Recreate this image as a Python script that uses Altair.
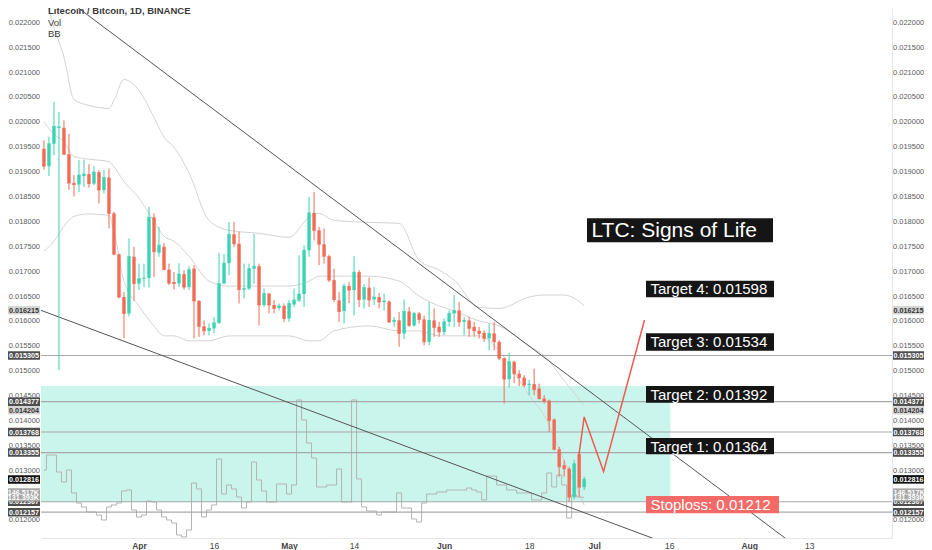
import altair as alt
import pandas as pd

# ---------------- data ----------------
n_days = 109
dates = [d.strftime("%Y-%m-%d") for d in pd.date_range("2018-03-13", periods=n_days, freq="D")]

opens = [
    0.01946, 0.01911, 0.01956, 0.01988, 0.01988, 0.01935, 0.01877, 0.01874, 0.01891, 0.01895,
    0.01876, 0.01899, 0.01863, 0.01888, 0.01816, 0.01734, 0.01648, 0.01615, 0.01729, 0.01675,
    0.01685, 0.01686, 0.01808, 0.01737, 0.01749, 0.01703, 0.01678, 0.01675, 0.01694, 0.01668,
    0.01705, 0.01640, 0.01589, 0.01580, 0.01585, 0.01596, 0.01675, 0.01716, 0.01774, 0.01755,
    0.01663, 0.01665, 0.01705, 0.01710, 0.01632, 0.01655, 0.01632, 0.01626, 0.01630, 0.01605,
    0.01633, 0.01641, 0.01654, 0.01742, 0.01817, 0.01782, 0.01754, 0.01730, 0.01682, 0.01641,
    0.01620, 0.01670, 0.01662, 0.01698, 0.01643, 0.01667, 0.01643, 0.01648, 0.01638, 0.01639,
    0.01598, 0.01601, 0.01575, 0.01619, 0.01591, 0.01615, 0.01603, 0.01558, 0.01601, 0.01588,
    0.01578, 0.01598, 0.01615, 0.01621, 0.01598, 0.01601, 0.01588, 0.01580, 0.01576, 0.01565,
    0.01575, 0.01558, 0.01525, 0.01483, 0.01518, 0.01494, 0.01486, 0.01471, 0.01473, 0.01464,
    0.01444, 0.01440, 0.01402, 0.01342, 0.01310, 0.01303, 0.01246, 0.01332, 0.01266]
highs = [
    0.01963, 0.01970, 0.02040, 0.02020, 0.02003, 0.01976, 0.01893, 0.01923, 0.01924, 0.01915,
    0.01911, 0.01903, 0.01903, 0.01906, 0.01819, 0.01735, 0.01658, 0.01766, 0.01749, 0.01715,
    0.01715, 0.01829, 0.01816, 0.01789, 0.01757, 0.01715, 0.01698, 0.01716, 0.01702, 0.01710,
    0.01712, 0.01642, 0.01601, 0.01595, 0.01608, 0.01737, 0.01735, 0.01799, 0.01799, 0.01779,
    0.01715, 0.01715, 0.01775, 0.01715, 0.01665, 0.01656, 0.01642, 0.01635, 0.01635, 0.01642,
    0.01665, 0.01732, 0.01752, 0.01849, 0.01859, 0.01789, 0.01786, 0.01733, 0.01705, 0.01658,
    0.01675, 0.01678, 0.01730, 0.01702, 0.01674, 0.01687, 0.01668, 0.01656, 0.01655, 0.01641,
    0.01608, 0.01618, 0.01643, 0.01628, 0.01618, 0.01618, 0.01611, 0.01638, 0.01625, 0.01598,
    0.01605, 0.01621, 0.01652, 0.01638, 0.01608, 0.01608, 0.01598, 0.01588, 0.01581, 0.01595,
    0.01598, 0.01561, 0.01526, 0.01536, 0.01520, 0.01501, 0.01491, 0.01482, 0.01504, 0.01474,
    0.01451, 0.01442, 0.01404, 0.01347, 0.01320, 0.01307, 0.01321, 0.01337, 0.01287]
lows = [
    0.01904, 0.01891, 0.01933, 0.01501, 0.01933, 0.01863, 0.01850, 0.01859, 0.01869, 0.01868,
    0.01873, 0.01836, 0.01856, 0.01786, 0.01732, 0.01645, 0.01565, 0.01609, 0.01640, 0.01662,
    0.01668, 0.01667, 0.01688, 0.01729, 0.01702, 0.01672, 0.01663, 0.01668, 0.01663, 0.01662,
    0.01565, 0.01568, 0.01571, 0.01571, 0.01575, 0.01594, 0.01674, 0.01692, 0.01749, 0.01635,
    0.01645, 0.01662, 0.01675, 0.01591, 0.01628, 0.01615, 0.01615, 0.01621, 0.01598, 0.01598,
    0.01628, 0.01638, 0.01628, 0.01729, 0.01762, 0.01712, 0.01715, 0.01678, 0.01638, 0.01598,
    0.01595, 0.01636, 0.01611, 0.01628, 0.01625, 0.01628, 0.01632, 0.01625, 0.01621, 0.01596,
    0.01588, 0.01548, 0.01563, 0.01588, 0.01588, 0.01595, 0.01551, 0.01551, 0.01568, 0.01568,
    0.01571, 0.01588, 0.01588, 0.01588, 0.01571, 0.01568, 0.01568, 0.01565, 0.01558, 0.01541,
    0.01541, 0.01521, 0.01434, 0.01466, 0.01475, 0.01469, 0.01467, 0.01451, 0.01451, 0.01442,
    0.01434, 0.01377, 0.01340, 0.01287, 0.01287, 0.01236, 0.01241, 0.01246, 0.01260]
closes = [
    0.01911, 0.01956, 0.01991, 0.01990, 0.01935, 0.01877, 0.01874, 0.01893, 0.01895, 0.01876,
    0.01899, 0.01863, 0.01888, 0.01816, 0.01734, 0.01648, 0.01615, 0.01729, 0.01675, 0.01685,
    0.01686, 0.01808, 0.01739, 0.01752, 0.01703, 0.01676, 0.01675, 0.01694, 0.01668, 0.01703,
    0.01640, 0.01589, 0.01580, 0.01585, 0.01596, 0.01675, 0.01716, 0.01774, 0.01755, 0.01663,
    0.01665, 0.01705, 0.01710, 0.01632, 0.01655, 0.01632, 0.01625, 0.01630, 0.01605, 0.01635,
    0.01642, 0.01654, 0.01742, 0.01817, 0.01782, 0.01754, 0.01730, 0.01682, 0.01643, 0.01619,
    0.01670, 0.01662, 0.01698, 0.01643, 0.01667, 0.01642, 0.01648, 0.01638, 0.01640, 0.01598,
    0.01601, 0.01575, 0.01619, 0.01591, 0.01615, 0.01603, 0.01558, 0.01601, 0.01587, 0.01578,
    0.01598, 0.01615, 0.01621, 0.01598, 0.01601, 0.01585, 0.01580, 0.01575, 0.01565, 0.01575,
    0.01558, 0.01525, 0.01483, 0.01518, 0.01494, 0.01486, 0.01471, 0.01473, 0.01462, 0.01444,
    0.01439, 0.01400, 0.01342, 0.01307, 0.01303, 0.01246, 0.01313, 0.01266, 0.012816]
volumes_k = [
    219.5, 267.9, 267.9, 213.0, 180.8, 219.5, 145.3, 113.0, 100.1, 83.9,
    83.9, 74.2, 58.1, 100.1, 106.5, 113.0, 151.7, 154.9, 90.4, 67.8,
    74.2, 119.4, 116.2, 90.4, 67.8, 58.1, 48.4, 9.7, 3.2, 25.8,
    177.5, 158.2, 67.8, 90.4, 106.5, 255.0, 142.0, 171.1, 158.2, 132.3,
    96.8, 116.2, 245.3, 187.2, 151.7, 116.2, 116.2, 174.3, 174.3, 142.0,
    171.1, 445.5, 381.0, 306.7, 258.2, 164.6, 164.6, 171.1, 171.1, 222.7,
    116.2, 116.2, 445.5, 190.5, 100.1, 87.2, 87.2, 74.2, 83.9, 83.9,
    83.9, 145.3, 96.8, 96.8, 61.3, 51.6, 113.0, 142.0, 142.0, 148.5,
    148.5, 154.9, 154.9, 154.9, 154.9, 161.4, 154.9, 148.5, 122.7, 200.1,
    200.1, 171.1, 171.1, 154.9, 154.9, 145.3, 145.3, 145.3, 122.7, 122.7,
    145.3, 209.8, 164.6, 203.4, 171.1, 64.6, 138.8, 132.3, 131.4]

bb_dates = ["2018-03-13", "2018-03-15", "2018-03-17", "2018-03-19", "2018-03-22", "2018-03-26",
            "2018-03-27", "2018-03-29", "2018-04-01", "2018-04-04", "2018-04-06", "2018-04-08",
            "2018-04-11", "2018-04-15", "2018-04-19", "2018-04-25", "2018-05-01", "2018-05-05",
            "2018-05-07", "2018-05-10", "2018-05-17", "2018-05-23", "2018-05-27", "2018-05-31",
            "2018-06-03", "2018-06-08", "2018-06-12", "2018-06-18", "2018-06-21", "2018-06-25",
            "2018-06-29"]
bb_upper = [0.0226, 0.0219, 0.0213, 0.02045, 0.02033, 0.02027, 0.02043, 0.02085, 0.02063, 0.02009,
            0.01969, 0.01949, 0.01897, 0.01802, 0.01782, 0.01776, 0.01768, 0.01808, 0.01816, 0.01802,
            0.01798, 0.01796, 0.01722, 0.01702, 0.01682, 0.01627, 0.01625, 0.01648, 0.01652, 0.01652,
            0.01631]
bb_mid = [0.0200, 0.01975, 0.0196, 0.0193, 0.01925, 0.0192, 0.0191, 0.0188, 0.01847, 0.0180,
          0.0177, 0.0176, 0.0173, 0.0168, 0.0167, 0.0167, 0.0167, 0.0168, 0.0169, 0.0169,
          0.0169, 0.0168, 0.0165, 0.0163, 0.0162, 0.0160, 0.0159, 0.0155, 0.0153, 0.0148,
          0.0143]
bb_lower = [0.0174, 0.0176, 0.0179, 0.0181, 0.01815, 0.01812, 0.0178, 0.0168, 0.0163, 0.0159,
            0.0157, 0.0157, 0.0156, 0.0156, 0.0157, 0.0157, 0.0157, 0.0156, 0.0156, 0.0158,
            0.0159, 0.0158, 0.0158, 0.0157, 0.0157, 0.0157, 0.0154, 0.0145, 0.0141, 0.0132,
            0.0123]

level_prices = [0.015305, 0.014377, 0.013768, 0.013355, 0.012367, 0.012157]

trend_names = ["upper", "upper", "lower", "lower"]
trend_dates = ["2018-03-17", "2018-08-09", "2018-03-11", "2018-07-15"]
trend_prices = [0.022504, 0.011574, 0.016265, 0.011548]

path_dates = ["2018-06-27T21:36:00Z", "2018-06-29T00:00:00Z", "2018-07-02T21:00:00Z", "2018-07-11T01:30:00Z"]
path_prices = [0.013266, 0.014070, 0.012975, 0.016019]

zone_start = ["2018-03-01"]
zone_end = ["2018-07-16T05:00:00Z"]
zone_low = [0.012362]
zone_high = [0.014692]

ann_texts = ["LTC: Signs of Life", "Target 4: 0.01598", "Target 3: 0.01534",
             "Target 2: 0.01392", "Target 1: 0.01364", "Stoploss: 0.01212"]
ann_start = ["2018-06-29T13:30:00Z"] + ["2018-07-11T08:40:00Z"] * 5
ann_end = ["2018-08-05T18:00:00Z"] + ["2018-08-05T22:50:00Z"] * 4 + ["2018-08-06T22:50:00Z"]
ann_top = [0.018062, 0.016808, 0.015751, 0.014692, 0.013648, 0.012482]
ann_bottom = [0.017580, 0.016475, 0.015402, 0.014357, 0.013320, 0.012135]
ann_fill = ["#151515", "#151515", "#151515", "#151515", "#151515", "#f36a66"]
ann_fsize = [21, 15, 15, 15, 15, 15]

price_tag_labels = ["0.016215", "0.015305", "0.014377", "0.014204", "0.013768",
                    "0.013355", "0.012816", "0.012367", "0.012157"]
price_tag_values = [0.016215, 0.015305, 0.014377, 0.014204, 0.013768,
                    0.013355, 0.012816, 0.012367, 0.012157]
price_tag_kinds = ["light", "dark", "dark", "light", "dark", "dark", "black", "dark", "dark"]
vol_tag_labels = ["146.517K", "131.393K"]
vol_tag_values = [146.517, 131.393]

price_ticks = [0.0120, 0.0125, 0.0130, 0.0135, 0.0140, 0.0145, 0.0150, 0.0155, 0.0160, 0.0165,
               0.0170, 0.0175, 0.0180, 0.0185, 0.0190, 0.0195, 0.0200, 0.0205, 0.0210, 0.0215,
               0.0220]
tick_dates = ["2018-04-01", "2018-04-16", "2018-05-01", "2018-05-14", "2018-06-01",
              "2018-06-18", "2018-07-01", "2018-07-16", "2018-08-01", "2018-08-13"]

# ---------------- styling / scales ----------------
UP = "#3bd3b3"
DOWN = "#f26b55"
FONT = "Liberation Sans"

def ms(ts):
    return int(ts.value // 10**6)

day0 = pd.Timestamp("2018-04-01", tz="UTC")
x_domain = [ms(day0 - pd.Timedelta(days=19.59)), ms(day0 + pd.Timedelta(days=150.54))]
tick_ms = [ms(pd.Timestamp(d, tz="UTC")) for d in tick_dates]
y_domain = [0.0116383, 0.0222873]
vol_domain = [0.0, 1710.8]

x_scale = alt.Scale(type="utc", domain=x_domain, padding=0, nice=False)
y_scale = alt.Scale(domain=y_domain, nice=False, zero=False, padding=0)
v_scale = alt.Scale(domain=vol_domain, nice=False, zero=False, padding=0)

x_axis = alt.Axis(
    values=tick_ms,
    labelExpr="utcdate(datum.value) == 1 ? utcFormat(datum.value, '%b') : utcFormat(datum.value, '%d')",
    labelFont=FONT, labelFontSize=8.5, labelColor="#444444",
    labelFontWeight={"condition": {"test": "utcdate(datum.value) == 1", "value": "bold"}, "value": "normal"},
    ticks=False, domain=True, domainColor="#e6e6e6", grid=False, title=None,
    labelPadding=3, labelFlush=False, labelOverlap=False, zindex=0)

def X(field="date"):
    return alt.X(f"{field}:T", scale=x_scale, axis=x_axis, title=None)

def Yp(field, axis=None):
    return alt.Y(f"{field}:Q", scale=y_scale, axis=axis, title=None)

left_axis = alt.Axis(orient="left", values=price_ticks, format=".6f", labelFont=FONT,
                     labelFontSize=7.5, labelColor="#5a5a5a", ticks=False, domain=False,
                     grid=False, labelPadding=1.5, labelOverlap=False, labelFlush=False,
                     zindex=0, title=None)
right_axis = alt.Axis(orient="right", values=price_ticks, format=".6f", labelFont=FONT,
                      labelFontSize=7.5, labelColor="#5a5a5a", ticks=False, domain=True,
                      domainColor="#e6e6e6", grid=False, labelPadding=0.5, labelOverlap=False,
                      labelFlush=False, zindex=0, title=None)

# ---------------- tables ----------------
candles = pd.DataFrame(dict(date=dates, open=opens, high=highs, low=lows, close=closes, volume=volumes_k))
candles["dir"] = ["up" if c >= o else "down" for o, c in zip(opens, closes)]
dir_color = alt.Color("dir:N", scale=alt.Scale(domain=["up", "down"], range=[UP, DOWN]), legend=None)

bb = pd.concat([
    pd.DataFrame(dict(date=bb_dates, price=bb_upper, band="upper")),
    pd.DataFrame(dict(date=bb_dates, price=bb_mid, band="mid")),
    pd.DataFrame(dict(date=bb_dates, price=bb_lower, band="lower")),
])
levels = pd.DataFrame(dict(price=level_prices))
trends = pd.DataFrame(dict(line=trend_names, date=trend_dates, price=trend_prices))
path = pd.DataFrame(dict(date=path_dates, price=path_prices, order=list(range(len(path_dates)))))
zone = pd.DataFrame(dict(start=zone_start, end=zone_end, low=zone_low, high=zone_high))
ann = pd.DataFrame(dict(text=ann_texts, start=ann_start, end=ann_end, top=ann_top,
                        bottom=ann_bottom, fill=ann_fill, fsize=ann_fsize))
ann["mid"] = (ann["top"] + ann["bottom"]) / 2
ptags = pd.DataFrame(dict(label=price_tag_labels, price=price_tag_values, kind=price_tag_kinds))
vtags = pd.DataFrame(dict(label=vol_tag_labels, vol=vol_tag_values))

tag_fill = alt.Scale(domain=["light", "dark", "black"], range=["#d5d5d5", "#4e4e4e", "#0f0f0f"])
tag_text = alt.Scale(domain=["light", "dark", "black"], range=["#333333", "#ffffff", "#ffffff"])

# ---------------- layers ----------------
zone_layer = alt.Chart(zone).mark_rect(clip=True, color="#2cd8b5", opacity=0.25).encode(
    x=X("start"), x2="end:T", y=Yp("low"), y2="high:Q")

bb_layer = alt.Chart(bb).mark_line(clip=True, color="#d3d3d3", strokeWidth=1, interpolate="monotone").encode(
    x=X(), y=Yp("price"), detail="band:N")

vol_layer = alt.Chart(candles).mark_line(clip=True, color="#b3b3b3", strokeWidth=1, interpolate="step").encode(
    x=X(), y=alt.Y("volume:Q", scale=v_scale, axis=None, title=None))

level_layer = alt.Chart(levels).mark_rule(color="#a8a8a8", strokeWidth=1.2).encode(
    y=Yp("price", right_axis))

trend_layer = alt.Chart(trends).mark_line(clip=True, color="#555555", strokeWidth=1).encode(
    x=X(), y=Yp("price"), detail="line:N")

wick_layer = alt.Chart(candles).mark_rule(clip=True, strokeWidth=1).encode(
    x=X(), y=Yp("low", left_axis), y2="high:Q", color=dir_color)

body_layer = alt.Chart(candles).mark_bar(clip=True, size=3.4).encode(
    x=X(), y=Yp("open"), y2="close:Q", color=dir_color)

doji_layer = alt.Chart(candles).mark_tick(clip=True, orient="horizontal", size=3.4, thickness=1).encode(
    x=X(), y=Yp("close"), color=dir_color)

path_layer = alt.Chart(path).mark_line(color="#f05a4e", strokeWidth=1.5).encode(
    x=X(), y=Yp("price"), order="order:Q")

ann_box = alt.Chart(ann).mark_rect().encode(
    x=X("start"), x2="end:T", y=Yp("top"), y2="bottom:Q", color=alt.Color("fill:N", scale=None))

ann_txt = alt.Chart(ann).mark_text(align="left", baseline="middle", font=FONT, color="white", dx=4.5, dy=0.5).encode(
    x=X("start"), y=Yp("mid"), text="text:N", size=alt.Size("fsize:Q", scale=None))

ptag_left = alt.Chart(ptags).mark_rule(strokeWidth=8.5, strokeCap="butt").encode(
    y=Yp("price"), x=alt.value(-34), x2=alt.value(-1),
    color=alt.Color("kind:N", scale=tag_fill, legend=None))
ptag_left_txt = alt.Chart(ptags).mark_text(align="right", baseline="middle", font=FONT, fontSize=7.2,
                                           fontWeight="bold", dy=0.5).encode(
    y=Yp("price"), x=alt.value(-2), text="label:N",
    color=alt.Color("kind:N", scale=tag_text, legend=None))
ptag_right = alt.Chart(ptags).mark_rule(strokeWidth=8.5, strokeCap="butt").encode(
    y=Yp("price"), x=alt.value(852), x2=alt.value(884),
    color=alt.Color("kind:N", scale=tag_fill, legend=None))
ptag_right_txt = alt.Chart(ptags).mark_text(align="left", baseline="middle", font=FONT, fontSize=7.2,
                                            fontWeight="bold", dy=0.5).encode(
    y=Yp("price"), x=alt.value(852.5), text="label:N",
    color=alt.Color("kind:N", scale=tag_text, legend=None))

VY = alt.Y("vol:Q", scale=v_scale, axis=None, title=None)
vtag_left = alt.Chart(vtags).mark_rule(strokeWidth=8.5, strokeCap="butt", color="#a6a6a6").encode(
    y=VY, x=alt.value(-34), x2=alt.value(-1))
vtag_left_txt = alt.Chart(vtags).mark_text(align="right", baseline="middle", font=FONT, fontSize=7.2,
                                           fontWeight="bold", color="white", dy=0.5).encode(
    y=VY, x=alt.value(-2), text="label:N")
vtag_right = alt.Chart(vtags).mark_rule(strokeWidth=8.5, strokeCap="butt", color="#a6a6a6").encode(
    y=VY, x=alt.value(852), x2=alt.value(884))
vtag_right_txt = alt.Chart(vtags).mark_text(align="left", baseline="middle", font=FONT, fontSize=7.2,
                                            fontWeight="bold", color="white", dy=0.5).encode(
    y=VY, x=alt.value(852.5), text="label:N")

chart = alt.layer(
    zone_layer, bb_layer, vol_layer, level_layer, trend_layer,
    wick_layer, body_layer, doji_layer, path_layer, ann_box, ann_txt,
    ptag_left, ptag_left_txt, ptag_right, ptag_right_txt,
    vtag_left, vtag_left_txt, vtag_right, vtag_right_txt,
).resolve_scale(y="independent", color="independent").properties(
    width=851, height=530,
    padding={"left": 33, "top": 0, "right": 32, "bottom": 12},
    autosize=alt.AutoSizeParams(type="none"),
    background="white",
    title=alt.TitleParams(
        text="Litecoin / Bitcoin, 1D, BINANCE", subtitle=["Vol", "BB"],
        anchor="start", frame="group", orient="top", offset=-30, dx=7,
        font=FONT, fontSize=9.5, fontWeight="bold", color="#3a3a3a",
        subtitleFont=FONT, subtitleFontSize=9.5, subtitleColor="#3a3a3a",
        subtitlePadding=2, subtitleLineHeight=11),
).configure_view(stroke=None)

chart.save("out.html", embed_options={"renderer": "svg", "actions": False})
